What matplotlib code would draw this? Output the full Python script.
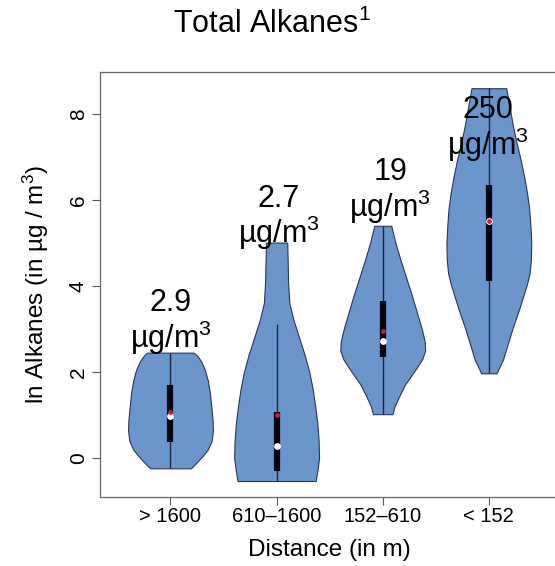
import numpy as np
import matplotlib
matplotlib.use("Agg")
import matplotlib.pyplot as plt

plt.rcParams['font.family'] = ['Liberation Sans', 'DejaVu Sans']
plt.rcParams['mathtext.fontset'] = 'custom'
plt.rcParams['mathtext.rm'] = 'Liberation Sans'
plt.rcParams['mathtext.it'] = 'Liberation Sans:italic'
plt.rcParams['mathtext.bf'] = 'Liberation Sans:bold'

# distance classes and concentrations (µg/m3)
groups = ["> 1600", "610\u20131600", "152\u2013610", "< 152"]
conc = [2.9, 2.7, 19, 250]

# density outlines: ln value -> relative width
v1_y = [-0.24, -0.1, 0.05, 0.2, 0.4, 0.65, 0.9, 1.2, 1.5, 1.8, 2.05, 2.25, 2.38, 2.45]
v1_d = [0.48, 0.62, 0.76, 0.88, 0.97, 1.0, 0.99, 0.96, 0.93, 0.88, 0.81, 0.72, 0.63, 0.55]
v2_y = [-0.535, -0.3, 0.0, 0.4, 0.8, 1.2, 1.6, 2.0, 2.4, 2.8, 3.2, 3.6, 4.1, 4.6, 5.01]
v2_d = [0.92, 0.96, 1.0, 0.99, 0.96, 0.91, 0.85, 0.77, 0.66, 0.53, 0.40, 0.30, 0.27, 0.26, 0.25]
v3_y = [1.02, 1.2, 1.4, 1.7, 1.9, 2.1, 2.3, 2.5, 2.7, 3.0, 3.4, 3.8, 4.2, 4.6, 5.0, 5.40]
v3_d = [0.23, 0.28, 0.37, 0.52, 0.66, 0.80, 0.93, 1.0, 0.99, 0.92, 0.80, 0.68, 0.55, 0.42, 0.30, 0.20]
v4_y = [1.97, 2.28, 2.7, 3.05, 3.45, 3.83, 4.05, 4.3, 4.6, 5.0, 5.38, 5.8, 6.16, 6.55, 6.93, 7.3, 7.71, 8.15, 8.60]
v4_d = [0.18, 0.33, 0.46, 0.57, 0.71, 0.83, 0.90, 0.96, 0.99, 1.0, 0.98, 0.95, 0.90, 0.83, 0.75, 0.66, 0.57, 0.49, 0.41]

# box summaries
q1 = [0.38, -0.30, 2.34, 4.12]
q3 = [1.70, 1.08, 3.66, 6.35]
med = [0.98, 0.29, 2.73, 5.51]
wlo = [-0.24, -0.535, 1.02, 1.97]
whi = [2.45, 3.11, 5.40, 8.60]

profiles = [(v1_y, v1_d), (v2_y, v2_d), (v3_y, v3_d), (v4_y, v4_d)]
pos = np.arange(1, len(groups) + 1)
ln_conc = np.log(conc)

fig = plt.figure(figsize=(5.55, 5.66), dpi=100)
ax = fig.add_axes([0.181, 0.1219, 0.826, 0.7509])

stats = []
for (yy, dd), m, lo, hi in zip(profiles, med, wlo, whi):
    stats.append({'coords': np.array(yy), 'vals': np.array(dd),
                  'mean': m, 'median': m, 'min': lo, 'max': hi})

parts = ax.violin(stats, positions=pos, widths=0.8, showmeans=False,
                  showextrema=False, showmedians=False)
for b in parts['bodies']:
    b.set_facecolor('#6a96cc')
    b.set_edgecolor('#2a3552')
    b.set_linewidth(0.8)
    b.set_alpha(1)

ax.vlines(pos, wlo, whi, color='#1a2340', lw=1.0, zorder=3)
ax.vlines(pos, q1, q3, color='#05050f', lw=4.5, zorder=4)
ax.scatter(pos, med, s=24, color='white', zorder=5, linewidths=0)
ax.scatter(pos, ln_conc, s=12, color='#c8203a', zorder=6, linewidths=0)

# concentration labels above each violin
lab_x = [1.0, 2.02, 3.07, 3.99]
lab_y = [2.56, 4.99, 5.61, 7.05]
for x, y, c in zip(lab_x, lab_y, conc):
    ax.text(x, y, "µg/m$^3$", ha='center', va='baseline', fontsize=22, zorder=7)
    ax.annotate(f"{c:g}", (x, y), xytext=(0, 26.3), textcoords='offset points',
                ha='center', va='baseline', fontsize=22, zorder=7)

ax.set_xlim(0.34, 4.66)
ax.set_ylim(-0.907, 8.977)
ax.set_xticks(pos)
ax.set_xticklabels(groups)
ax.set_yticks([0, 2, 4, 6, 8])
ax.tick_params(axis='x', length=5.5, width=0.8, color='#555555', labelsize=14.5, pad=2)
ax.tick_params(axis='y', length=6, width=0.8, color='#555555', labelsize=15,
               pad=3, labelrotation=90)
for t in ax.get_yticklabels():
    t.set_va('center')
for s in ax.spines.values():
    s.set_color('#666666')
    s.set_linewidth(0.9)
ax.spines['right'].set_visible(False)

ax.set_xlabel("Distance (in m)", fontsize=17.5)
ax.xaxis.set_label_coords(0.5, -0.099)
ax.set_ylabel("ln Alkanes (in µg / m$^3$)", fontsize=17.5)
ax.yaxis.set_label_coords(-0.108, 0.5)

fig.text(0.49, 0.9417, "Total Alkanes$^1$", ha='center', va='baseline', fontsize=22)

fig.savefig("out.png", dpi=100)
